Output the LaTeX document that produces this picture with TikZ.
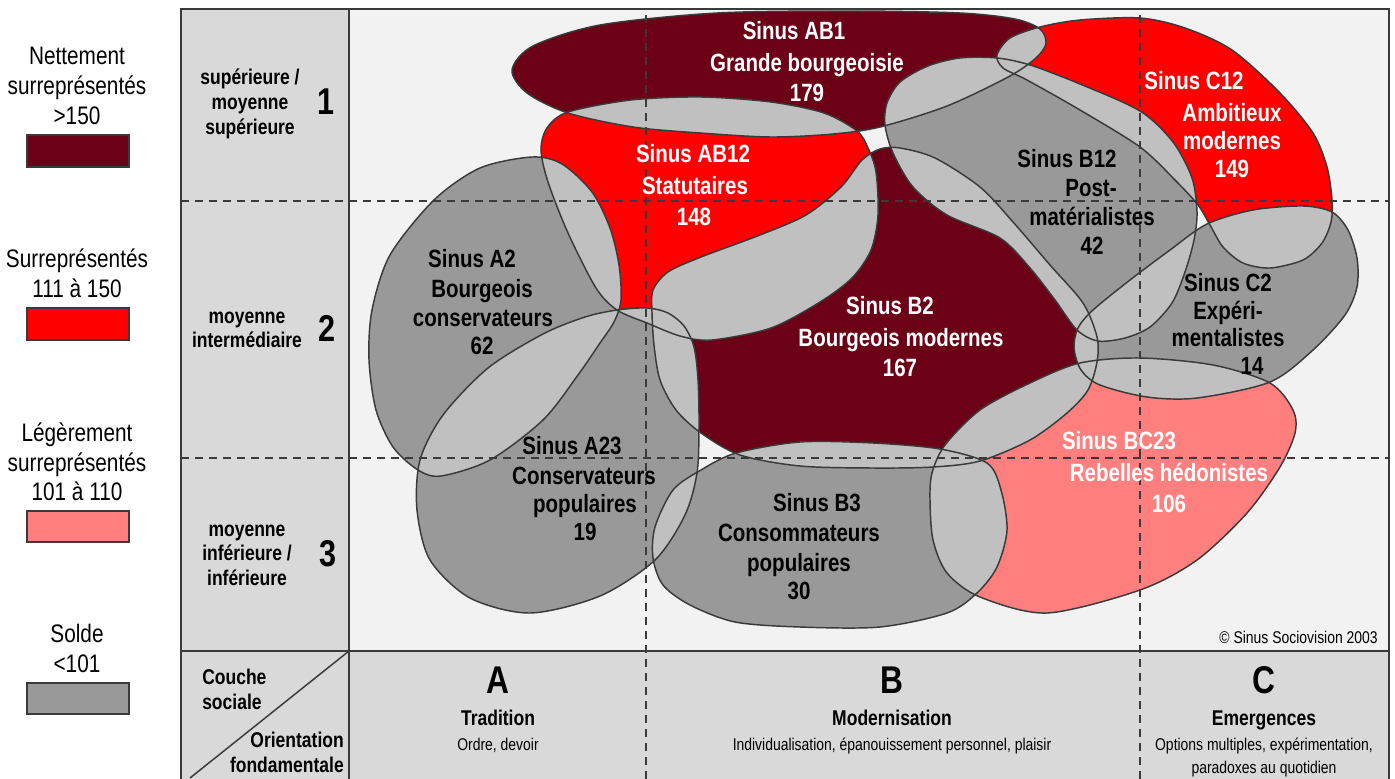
\documentclass[tikz,border=0pt]{standalone}
\usepackage{fontspec}
\setmainfont{Liberation Sans}[FakeStretch=0.82]
\definecolor{cMar}{HTML}{6B0016}
\definecolor{cRed}{HTML}{FF0000}
\definecolor{cPink}{HTML}{FF7F7F}
\definecolor{cGray}{HTML}{999999}
\definecolor{cLight}{HTML}{C0C0C0}
\definecolor{cBg}{HTML}{F2F2F2}
\definecolor{cPanel}{HTML}{D9D9D9}
\definecolor{cLine}{HTML}{3A3A3A}

\newcommand\pathABone{plot[smooth cycle] coordinates {(512,70) (533,46) (600,25) (717,13) (850,11) (960,13) (1015,19) (1040,29) (1046,43) (1037,57) (1010,76) (947,106) (880,127) (833,134) (771,137) (700,133) (633,127) (568,113) (527,93)}}
\newcommand\pathABtwelve{plot[smooth cycle] coordinates {(541,150) (548,182) (568,233) (596,288) (617,310) (647,323) (680,336) (712,340) (771,328) (820,302) (852,278) (871,250) (878,215) (876,172) (868,148) (857,131) (824,113) (771,102) (701,97) (631,100) (568,112) (547,128)}}
\newcommand\pathAtwo{plot[smooth cycle] coordinates {(532,157) (562,164) (592,192) (610,228) (619,265) (621,300) (614,322) (600,343) (578,375) (543,420) (490,460) (441,476) (418,470) (393,447) (376,410) (369,360) (372,310) (390,255) (434,200) (480,168)}}
\newcommand\pathAtwentythree{plot[smooth cycle] coordinates {(617,310) (647,308) (668,313) (684,326) (694,347) (698,380) (699,427) (697,473) (685,515) (655,560) (600,596) (530,613) (470,598) (430,560) (417,510) (420,460) (443,415) (488,368) (543,334) (585,317)}}
\newcommand\pathBtwo{plot[smooth cycle] coordinates {(652,312) (653,290) (668,272) (701,257) (760,235) (806,215) (841,187) (862,160) (880,149) (900,148) (935,158) (980,187) (1013,222) (1050,265) (1083,303) (1097,337) (1097,362) (1088,390) (1067,413) (1030,440) (980,461) (933,467) (873,468) (800,466) (740,455) (701,433) (676,410) (660,380) (654,345)}}
\newcommand\pathBtwelve{plot[smooth cycle] coordinates {(885,125) (893,153) (913,187) (947,215) (1000,238) (1030,268) (1055,300) (1077,330) (1098,341) (1125,338) (1150,327) (1172,303) (1185,272) (1194,240) (1197,212) (1192,178) (1173,142) (1140,111) (1080,84) (1030,65) (997,58) (960,58) (928,66) (900,82) (887,103)}}
\newcommand\pathCtwelve{plot[smooth cycle] coordinates {(997,55) (1010,38) (1040,27) (1080,20) (1140,18) (1185,28) (1232,50) (1280,93) (1313,133) (1327,167) (1332,200) (1331,222) (1322,243) (1303,260) (1270,268) (1243,263) (1223,247) (1210,225) (1198,205) (1175,180) (1140,147) (1080,110) (1027,80) (1003,68)}}
\newcommand\pathCtwo{plot[smooth cycle] coordinates {(1074,348) (1078,328) (1093,310) (1130,280) (1170,250) (1207,224) (1253,210) (1303,206) (1332,212) (1348,230) (1357,258) (1357,287) (1345,315) (1313,350) (1270,382) (1197,398) (1147,397) (1100,385) (1081,370)}}
\newcommand\pathBCtwentythree{plot[smooth cycle] coordinates {(930,500) (933,540) (947,573) (980,597) (1047,613) (1140,590) (1197,560) (1247,513) (1280,467) (1295,433) (1293,410) (1270,383) (1213,365) (1140,358) (1080,363) (1030,383) (980,410) (945,445) (932,473)}}
\newcommand\pathBthree{plot[smooth cycle] coordinates {(653,558) (655,527) (673,490) (701,470) (736,453) (800,442) (873,443) (940,449) (987,463) (1001,490) (1007,530) (997,567) (977,593) (947,613) (880,627) (800,627) (735,622) (690,605) (663,585)}}

\newcommand\ovl[2]{\begin{scope}\clip #1; \fill[cLight] #2;\end{scope}}

\begin{document}
\begin{tikzpicture}[x=0.75pt,y=-0.75pt,
  outl/.style={draw=cLine,line width=1.1pt},
  frm/.style={draw=cLine,line width=1.5pt},
  dsh/.style={draw=cLine,line width=1.1pt,dash pattern=on 6pt off 4.5pt},
  wt/.style={font=\bfseries\fontsize{18.75}{20}\selectfont,text=white,anchor=base,yshift=-6.75pt,inner sep=0pt},
  bk/.style={font=\bfseries\fontsize{18.75}{20}\selectfont,text=black,anchor=base,yshift=-6.75pt,inner sep=0pt},
  lab/.style={font=\bfseries\fontsize{16}{18}\selectfont,anchor=base,yshift=-5.8pt,inner sep=0pt},
  num/.style={font=\bfseries\fontsize{28}{30}\selectfont,anchor=base,yshift=-10.1pt,inner sep=0pt},
  leg/.style={font=\fontsize{19}{21}\selectfont,anchor=base,yshift=-6.8pt,inner sep=0pt},
  reg/.style={font=\fontsize{12.75}{14}\selectfont,anchor=base,yshift=-4.6pt,inner sep=0pt},
  head/.style={font=\bfseries\fontsize{16}{18}\selectfont,anchor=base,yshift=-5.8pt,inner sep=0pt},
  letter/.style={font=\bfseries\fontsize{29}{31}\selectfont,anchor=base,yshift=-10.5pt,inner sep=0pt},
  legbox/.style={draw=cLine,line width=1.5pt}]
\clip (0,0) rectangle (1395,778);
\fill[white] (0,0) rectangle (1395,778);
% panels
\fill[cPanel] (181,9) rectangle (349,651);
\fill[cBg] (349,9) rectangle (1389,651);
\fill[cPanel] (181,651) rectangle (1389,800);

% blobs
\fill[cMar] \pathABone;
\fill[cRed] \pathABtwelve;
\fill[cGray] \pathAtwo;
\fill[cGray] \pathAtwentythree;
\fill[cMar] \pathBtwo;
\fill[cGray] \pathBtwelve;
\fill[cRed] \pathCtwelve;
\fill[cGray] \pathCtwo;
\fill[cPink] \pathBCtwentythree;
\fill[cGray] \pathBthree;

% overlaps
\ovl{\pathABone}{\pathABtwelve}
\ovl{\pathABone}{\pathBtwelve}
\ovl{\pathABone}{\pathCtwelve}
\ovl{\pathABtwelve}{\pathAtwo}
\ovl{\pathABtwelve}{\pathAtwentythree}
\ovl{\pathABtwelve}{\pathBtwo}
\ovl{\pathAtwo}{\pathAtwentythree}
\ovl{\pathAtwentythree}{\pathBtwo}
\ovl{\pathAtwentythree}{\pathBthree}
\ovl{\pathBtwo}{\pathBthree}
\ovl{\pathBtwo}{\pathBCtwentythree}
\ovl{\pathBtwo}{\pathBtwelve}
\ovl{\pathBtwo}{\pathCtwo}
\ovl{\pathBtwelve}{\pathCtwelve}
\ovl{\pathBtwelve}{\pathCtwo}
\ovl{\pathCtwelve}{\pathCtwo}
\ovl{\pathCtwo}{\pathBCtwentythree}
\ovl{\pathBthree}{\pathBCtwentythree}

% outlines
\draw[outl] \pathABone;
\draw[outl] \pathABtwelve;
\draw[outl] \pathAtwo;
\draw[outl] \pathAtwentythree;
\draw[outl] \pathBtwo;
\draw[outl] \pathBtwelve;
\draw[outl] \pathCtwelve;
\draw[outl] \pathCtwo;
\draw[outl] \pathBCtwentythree;
\draw[outl] \pathBthree;

% dashed grid
\coordinate (h1a) at (181,201); \coordinate (h1b) at (1389,201);
\coordinate (h2a) at (181,458); \coordinate (h2b) at (1389,458);
\coordinate (v1a) at (646,15); \coordinate (v1b) at (646,790);
\coordinate (v2a) at (1140,15); \coordinate (v2b) at (1140,790);
\draw[dsh] (h1a) -- (h1b);
\draw[dsh] (h2a) -- (h2b);
\draw[dsh] (v1a) -- (v1b);
\draw[dsh] (v2a) -- (v2b);

% frame
\coordinate (fTL) at (181,9); \coordinate (fBR) at (1389,800);
\draw[frm] (fTL) rectangle (fBR);
\coordinate (colT) at (349,9); \coordinate (colB) at (349,800);
\draw[frm] (colT) -- (colB);
\coordinate (rowL) at (181,651); \coordinate (rowR) at (1389,651);
\draw[frm] (rowL) -- (rowR);
\coordinate (diagA) at (349,651); \coordinate (diagB) at (190,778);
\draw[cLine,line width=1.1pt] (diagA) -- (diagB);

% legend
\node[leg] (lg1a) at (77,55) {Nettement};
\node[leg] (lg1b) at (77,85) {surreprésentés};
\node[leg] (lg1c) at (77,115) {>150};
\draw[legbox,fill=cMar] (27,135) rectangle (129,167);
\node[leg] (lg2a) at (77,258) {Surreprésentés};
\node[leg] (lg2b) at (77,288) {111 à 150};
\draw[legbox,fill=cRed] (27,308) rectangle (129,340);
\node[leg] (lg3a) at (77,432) {Légèrement};
\node[leg] (lg3b) at (77,462) {surreprésentés};
\node[leg] (lg3c) at (77,491) {101 à 110};
\draw[legbox,fill=cPink] (27,511) rectangle (129,542);
\node[leg] (lg4a) at (77,633) {Solde};
\node[leg] (lg4b) at (77,663) {<101};
\draw[legbox,fill=cGray] (27,683) rectangle (129,714);

% left column
\node[lab] (r1a) at (250,77) {supérieure /};
\node[lab] (r1b) at (250,102) {moyenne};
\node[lab] (r1c) at (250,127) {supérieure};
\node[num] (r1n) at (326,101) {1};
\node[lab] (r2a) at (247,316) {moyenne};
\node[lab] (r2b) at (247,340) {intermédiaire};
\node[num] (r2n) at (327,328) {2};
\node[lab] (r3a) at (247,529) {moyenne};
\node[lab] (r3b) at (247,553) {inférieure /};
\node[lab] (r3c) at (247,578) {inférieure};
\node[num] (r3n) at (328,553) {3};

% bottom-left cell
\node[lab,anchor=base west] (cs1) at (202,677) {Couche};
\node[lab,anchor=base west] (cs2) at (202,702) {sociale};
\node[lab,anchor=base east] (of1) at (344,740) {Orientation};
\node[lab,anchor=base east] (of2) at (344,765) {fondamentale};

% bottom row
\node[letter] (colA) at (498,679) {A};
\node[head] (colAt) at (498,718) {Tradition};
\node[reg] (colAs) at (498,744) {Ordre, devoir};
\node[letter] (colB) at (892,679) {B};
\node[head] (colBt) at (892,718) {Modernisation};
\node[reg] (colBs) at (892,744) {Individualisation, épanouissement personnel, plaisir};
\node[letter] (colC) at (1264,679) {C};
\node[head] (colCt) at (1264,718) {Emergences};
\node[reg] (colCs) at (1264,744) {Options multiples, expérimentation,};
\node[reg] (colCs2) at (1264,767) {paradoxes au quotidien};

\node[reg,anchor=base east] (copy) at (1378,637) {© Sinus Sociovision 2003};

% blob labels
\node[wt] (ab1a) at (794,30) {Sinus AB1};
\node[wt] (ab1b) at (807,62) {Grande bourgeoisie};
\node[wt] (ab1c) at (807,92) {179};
\node[wt] (ab12a) at (693,153) {Sinus AB12};
\node[wt] (ab12b) at (695,185) {Statutaires};
\node[wt] (ab12c) at (694,216) {148};
\node[wt] (c12a) at (1194,80) {Sinus C12};
\node[wt] (c12b) at (1232,112) {Ambitieux};
\node[wt] (c12c) at (1232,140) {modernes};
\node[wt] (c12d) at (1232,168) {149};
\node[bk] (b12a) at (1067,158) {Sinus B12};
\node[bk] (b12b) at (1091,187) {Post-};
\node[bk] (b12c) at (1092,216) {matérialistes};
\node[bk] (b12d) at (1092,245) {42};
\node[bk] (a2a) at (472,258) {Sinus A2};
\node[bk] (a2b) at (482,288) {Bourgeois};
\node[bk] (a2c) at (483,317) {conservateurs};
\node[bk] (a2d) at (482,345) {62};
\node[wt] (b2a) at (890,305) {Sinus B2};
\node[wt] (b2b) at (901,337) {Bourgeois modernes};
\node[wt] (b2c) at (900,367) {167};
\node[bk] (c2a) at (1228,282) {Sinus C2};
\node[bk] (c2b) at (1228,310) {Expéri-};
\node[bk] (c2c) at (1228,337) {mentalistes};
\node[bk] (c2d) at (1252,365) {14};
\node[bk] (a23a) at (572,445) {Sinus A23};
\node[bk] (a23b) at (584,475) {Conservateurs};
\node[bk] (a23c) at (585,503) {populaires};
\node[bk] (a23d) at (585,531) {19};
\node[bk] (b3a) at (817,502) {Sinus B3};
\node[bk] (b3b) at (799,532) {Consommateurs};
\node[bk] (b3c) at (799,562) {populaires};
\node[bk] (b3d) at (799,590) {30};
\node[wt] (bc23a) at (1119,440) {Sinus BC23};
\node[wt] (bc23b) at (1169,472) {Rebelles hédonistes};
\node[wt] (bc23c) at (1169,503) {106};
\end{tikzpicture}
\end{document}
